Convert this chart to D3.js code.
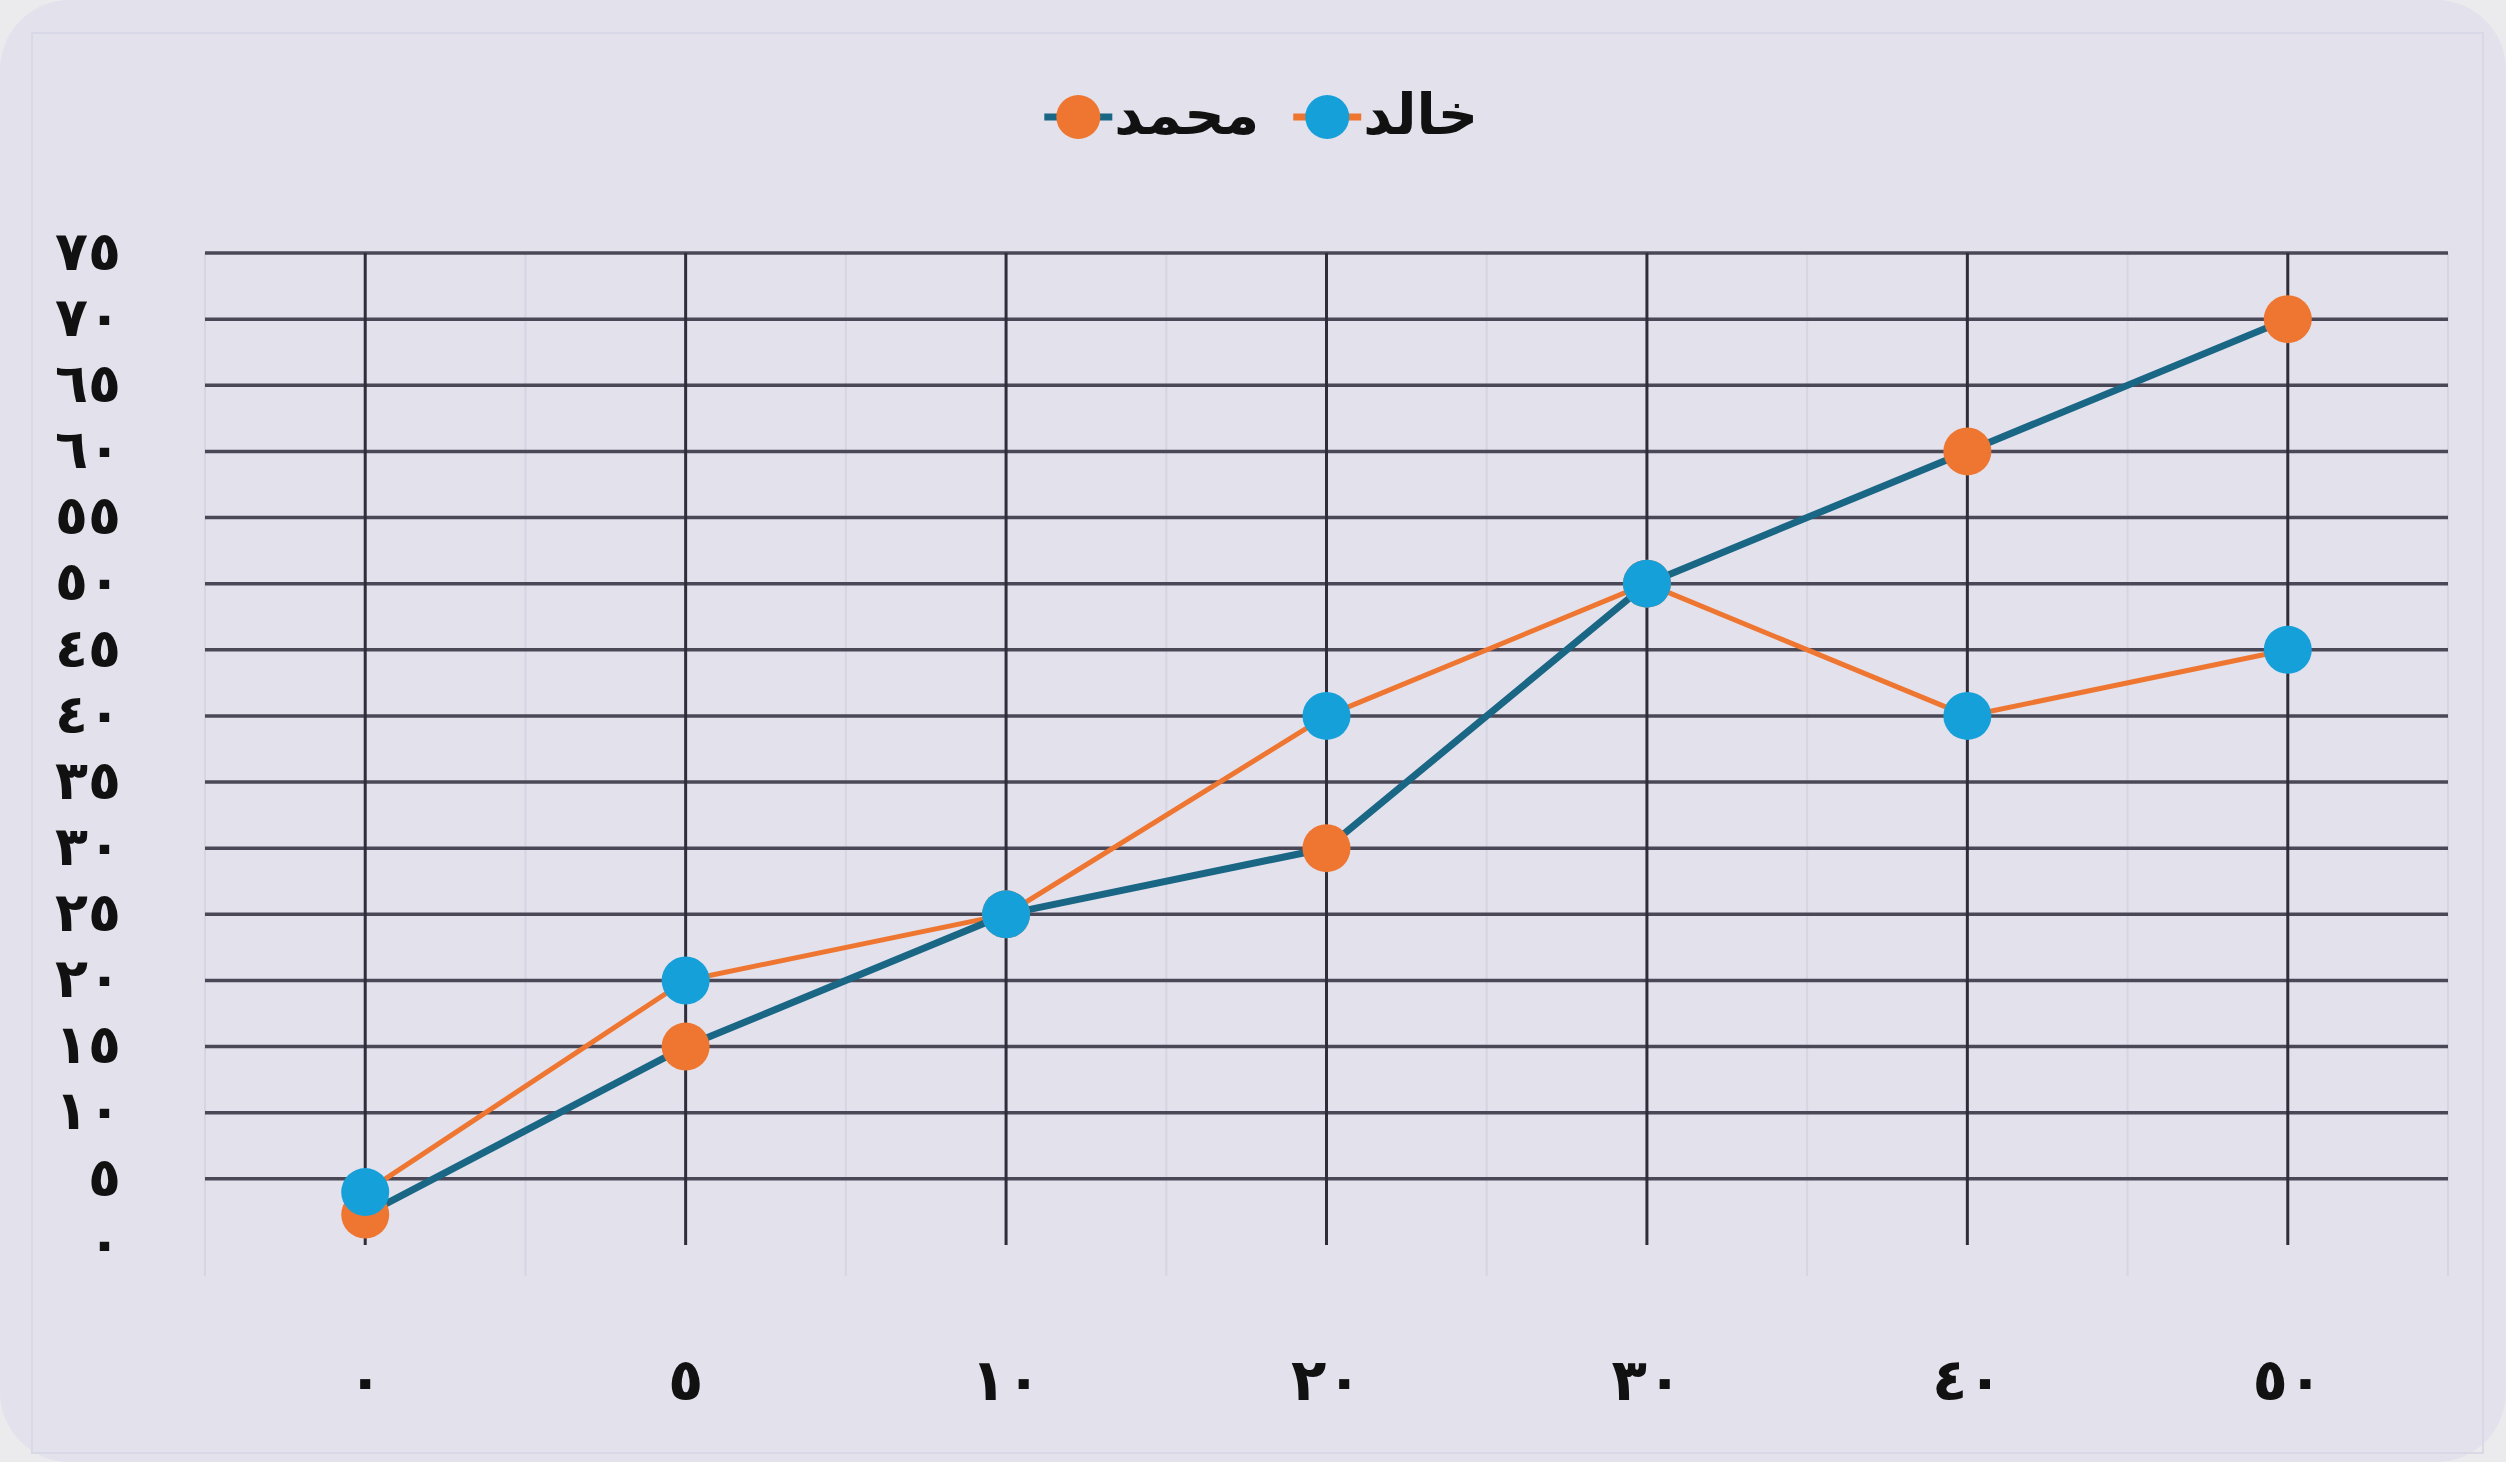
<!DOCTYPE html>
<html>
<head>
<meta charset="utf-8">
<script src="https://cdn.jsdelivr.net/npm/d3@7"></script>
<style>
  html, body { margin: 0; padding: 0; background: #ebebee; }
  svg { display: block; }
</style>
</head>
<body>
<svg id="chart" width="2506" height="1462"></svg>
<script>
// ---- data ----
const categories = ["0", "5", "10", "20", "30", "40", "50"];
const categoryLabels = ["٠", "٥", "١٠", "٢٠", "٣٠", "٤٠", "٥٠"];
const khaledValues = [4, 20, 25, 40, 50, 40, 45];     // خالد
const mohammedValues = [2.3, 15, 25, 30, 50, 60, 70]; // محمد
const yTicks = [0, 5, 10, 15, 20, 25, 30, 35, 40, 45, 50, 55, 60, 65, 70, 75];
const yTickLabels = ["٠", "٥", "١٠", "١٥", "٢٠", "٢٥", "٣٠", "٣٥", "٤٠", "٤٥", "٥٠", "٥٥", "٦٠", "٦٥", "٧٠", "٧٥"];
const seriesNames = ["خالد", "محمد"];

// ---- styles ----
const C = {
  bg: "#e2e1ec",
  grid: "#4a4856",
  faint: "#d6d5e2",
  orange: "#ee7630",
  blue: "#16a0da",
  teal: "#1a6685",
  text: "#111111"
};
const font = "'DejaVu Sans', 'Noto Sans', sans-serif";

const svg = d3.select("#chart");
const W = 2506, H = 1462;

// background card
svg.append("rect").attr("x", 0).attr("y", 0).attr("width", W).attr("height", H)
  .attr("rx", 70).attr("fill", C.bg);
svg.append("rect").attr("x", 32).attr("y", 33).attr("width", 2451).attr("height", 1420)
  .attr("fill", "none").attr("stroke", "#d9d8e6").attr("stroke-width", 2);

// scales
const x = d3.scaleBand().domain(categories).range([205, 2448]).padding(0);
const cx = d => x(d) + x.bandwidth() / 2;
const y = d3.scaleLinear().domain([0, 75]).range([1245, 253]);

// faint band boundary lines
const bounds = categories.map(c => x(c)).concat([x.range()[1]]);
svg.append("g").selectAll("line").data(bounds).join("line")
  .attr("x1", d => d).attr("x2", d => d)
  .attr("y1", y(75)).attr("y2", 1276)
  .attr("stroke", C.faint).attr("stroke-width", 2);

// horizontal gridlines (skip 0)
svg.append("g").selectAll("line").data(yTicks.filter(t => t > 0)).join("line")
  .attr("x1", x.range()[0]).attr("x2", x.range()[1])
  .attr("y1", d => y(d)).attr("y2", d => y(d))
  .attr("stroke", C.grid).attr("stroke-width", 3.5);

// vertical gridlines at categories
svg.append("g").selectAll("line").data(categories).join("line")
  .attr("x1", d => cx(d)).attr("x2", d => cx(d))
  .attr("y1", y(75)).attr("y2", y(0))
  .attr("stroke", "#2f2d3a").attr("stroke-width", 3);

// y axis labels
const yAxis = d3.axisLeft(y).tickValues(yTicks)
  .tickFormat((d, i) => yTickLabels[yTicks.indexOf(d)]).tickSize(0).tickPadding(0);
const gy = svg.append("g").attr("transform", "translate(121,0)").call(yAxis);
gy.select(".domain").remove();
gy.selectAll("text").attr("font-family", font).attr("font-weight", "bold")
  .attr("font-size", 54).attr("fill", C.text).attr("dy", "0.3em")
  .attr("text-anchor", "end");

// x axis labels
const xAxis = d3.axisBottom(x).tickFormat((d, i) => categoryLabels[categories.indexOf(d)])
  .tickSize(0).tickPadding(0);
const gx = svg.append("g").attr("transform", "translate(0,1383)").call(xAxis);
gx.select(".domain").remove();
gx.selectAll("text").attr("font-family", font).attr("font-weight", "bold")
  .attr("font-size", 58).attr("fill", C.text).attr("dy", "0.3em");

// lines
const line = d3.line().x((d, i) => cx(categories[i])).y(d => y(d));
svg.append("path").datum(khaledValues).attr("d", line)
  .attr("fill", "none").attr("stroke", C.orange).attr("stroke-width", 5).attr("stroke-linejoin", "round");
svg.append("path").datum(mohammedValues).attr("d", line)
  .attr("fill", "none").attr("stroke", C.teal).attr("stroke-width", 7).attr("stroke-linejoin", "round");

// markers
svg.append("g").selectAll("circle").data(mohammedValues).join("circle")
  .attr("cx", (d, i) => cx(categories[i])).attr("cy", d => y(d)).attr("r", 24).attr("fill", C.orange);
svg.append("g").selectAll("circle").data(khaledValues).join("circle")
  .attr("cx", (d, i) => cx(categories[i])).attr("cy", d => y(d)).attr("r", 24).attr("fill", C.blue);

// legend (RTL: first series at the right)
const legendY = 117;
const legendItems = [
  { name: seriesNames[0], marker: C.blue, line: C.orange },
  { name: seriesNames[1], marker: C.orange, line: C.teal }
];
let rightEdge = 1478;
const lg = svg.append("g");
legendItems.forEach(it => {
  const t = lg.append("text").attr("x", rightEdge).attr("y", legendY)
    .attr("dy", "0.3em").attr("text-anchor", "end")
    .attr("font-family", font).attr("font-weight", "bold").attr("font-size", 56)
    .attr("fill", C.text).text(it.name);
  const w = t.node().getComputedTextLength();
  const mx = rightEdge - w - 36;
  lg.append("line").attr("x1", mx - 34).attr("x2", mx + 34)
    .attr("y1", legendY).attr("y2", legendY)
    .attr("stroke", it.line).attr("stroke-width", 7);
  lg.append("circle").attr("cx", mx).attr("cy", legendY).attr("r", 22).attr("fill", it.marker);
  rightEdge = mx - 68;
});
</script>
</body>
</html>
